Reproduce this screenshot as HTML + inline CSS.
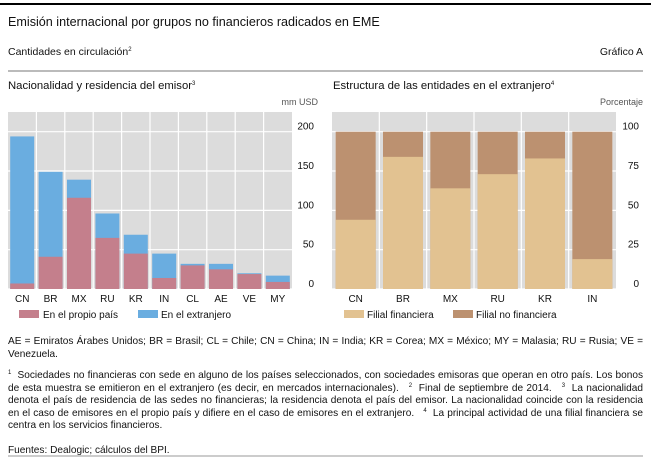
<!DOCTYPE html>
<html><head><meta charset="utf-8"><style>
body{margin:0;background:#fff;font-family:"Liberation Sans",sans-serif;}
#w{position:relative;width:651px;height:471px;overflow:hidden;}
.t{position:absolute;white-space:nowrap;color:#111;}
#notes{position:absolute;left:8px;top:336px;width:635px;font-size:10.1px;line-height:12.5px;color:#111;text-align:justify;}
#notes p{margin:0 0 9px 0;}
#notes p.last{margin-top:12px;}
sup{font-size:6px;line-height:0;vertical-align:0;position:relative;top:-4px;}
</style></head><body><div id="w">
<div style="position:absolute;left:0;top:3px;width:651px;height:2px;background:#000"></div>
<div class="t" style="left:8px;top:15px;font-size:12.6px">Emisión internacional por grupos no financieros radicados en EME</div>
<div class="t" style="left:8px;top:46px;font-size:10.5px">Cantidades en circulación<sup>2</sup></div>
<div class="t" style="right:8px;top:46px;font-size:10.5px">Gráfico A</div>
<div style="position:absolute;left:8px;top:70px;width:635px;height:2px;background:#bbb"></div>
<div class="t" style="left:8px;top:80px;font-size:11.3px">Nacionalidad y residencia del emisor<sup>3</sup></div>
<div class="t" style="left:333px;top:80px;font-size:11.3px">Estructura de las entidades en el extranjero<sup>4</sup></div>
<div class="t" style="right:333px;top:97px;font-size:9px;color:#555">mm USD</div>
<div class="t" style="right:8px;top:97px;font-size:9px;color:#555">Porcentaje</div>
<svg id="svg" width="651" height="330" style="position:absolute;left:0;top:0"></svg>
<div id="notes">
<p>AE = Emiratos Árabes Unidos; BR = Brasil; CL = Chile; CN = China; IN = India; KR = Corea; MX = México; MY = Malasia; RU = Rusia; VE = Venezuela.</p>
<p><sup>1</sup>&nbsp; Sociedades no financieras con sede en alguno de los países seleccionados, con sociedades emisoras que operan en otro país. Los bonos de esta muestra se emitieron en el extranjero (es decir, en mercados internacionales). &nbsp; <sup>2</sup>&nbsp; Final de septiembre de 2014. &nbsp; <sup>3</sup>&nbsp; La nacionalidad denota el país de residencia de las sedes no financieras; la residencia denota el país del emisor. La nacionalidad coincide con la residencia en el caso de emisores en el propio país y difiere en el caso de emisores en el extranjero. &nbsp; <sup>4</sup>&nbsp; La principal actividad de una filial financiera se centra en los servicios financieros.</p>
<p class="last">Fuentes: Dealogic; cálculos del BPI.</p>
</div>
<div style="position:absolute;left:8px;top:455px;width:635px;height:2px;background:#ccc"></div>
</div>
<script>
const leftCats=["CN","BR","MX","RU","KR","IN","CL","AE","VE","MY"];
const homeVals=[7,41,116,65,45,14,30,25,19,9];
const totalVals=[194,149,139,96,69,45,32,32,20,17];
const leftTicks=[0,50,100,150,200];
const rightCats=["CN","BR","MX","RU","KR","IN"];
const finVals=[44,84,64,73,83,19];
const rightTicks=[0,25,50,75,100];

const svg=document.getElementById('svg');
const NS="http://www.w3.org/2000/svg";
function mk(tag,attrs,parent){const e=document.createElementNS(NS,tag);for(const k in attrs)e.setAttribute(k,attrs[k]);(parent||svg).appendChild(e);return e;}
function panel(x0,x1,max,ticks,cats,labX,name){
  const yTop=112,y0=289,y1=131.7;
  const ys=v=>y0-(y0-y1)*v/max;
  const bg=mk('rect',{x:x0,y:yTop,width:x1-x0,height:y0-yTop,fill:'#dcdcdc'});
  
  
  const cw=(x1-x0)/cats.length;
  ticks.forEach(t=>{
    const l=mk('line',{x1:x0,x2:x1,y1:ys(t),y2:ys(t),stroke:'#fff','stroke-width':1.2});
    
    
    const tx=mk('text',{x:labX,y:ys(t)-2,'text-anchor':'end','font-size':10,fill:'#111'});
    tx.textContent=t;
    
    
  });
  for(let i=1;i<cats.length;i++){
    const l=mk('line',{x1:x0+i*cw,x2:x0+i*cw,y1:yTop,y2:y0,stroke:'#fff','stroke-width':1.2});
    
    
  }
  return {ys,cw};
}
const L=panel(8,292,200,leftTicks,leftCats,314,'left');
leftCats.forEach((c,i)=>{
  const cx=8+L.cw*(i+0.5),bw=24;
  const b1=mk('rect',{x:cx-bw/2,y:L.ys(totalVals[i]),width:bw,height:L.ys(0)-L.ys(totalVals[i]),fill:'#6aade0'});
  
  
  const b2=mk('rect',{x:cx-bw/2,y:L.ys(homeVals[i]),width:bw,height:L.ys(0)-L.ys(homeVals[i]),fill:'#c47f8c'});
  
  
  const t=mk('text',{x:cx,y:302,'text-anchor':'middle','font-size':10,fill:'#111'});
  t.textContent=c;
  
  
});
const R=panel(332,616,100,rightTicks,rightCats,639,'right');
rightCats.forEach((c,i)=>{
  const cx=332+R.cw*(i+0.5),bw=40;
  const b1=mk('rect',{x:cx-bw/2,y:R.ys(100),width:bw,height:R.ys(0)-R.ys(100),fill:'#bc9170'});
  
  
  const b2=mk('rect',{x:cx-bw/2,y:R.ys(finVals[i]),width:bw,height:R.ys(0)-R.ys(finVals[i]),fill:'#e2c291'});
  
  
  const t=mk('text',{x:cx,y:302,'text-anchor':'middle','font-size':10,fill:'#111'});
  t.textContent=c;
  
  
});
[[19,43,'#c47f8c','En el propio país'],[138,161,'#6aade0','En el extranjero'],[344,367,'#e2c291','Filial financiera'],[453,476,'#bc9170','Filial no financiera']].forEach(l=>{
  const r=mk('rect',{x:l[0],y:310,width:20,height:8,fill:l[2]});
  
  
  const t=mk('text',{x:l[1],y:318,'font-size':10,fill:'#111'});
  t.textContent=l[3];
  
  
});
</script>
</body></html>
